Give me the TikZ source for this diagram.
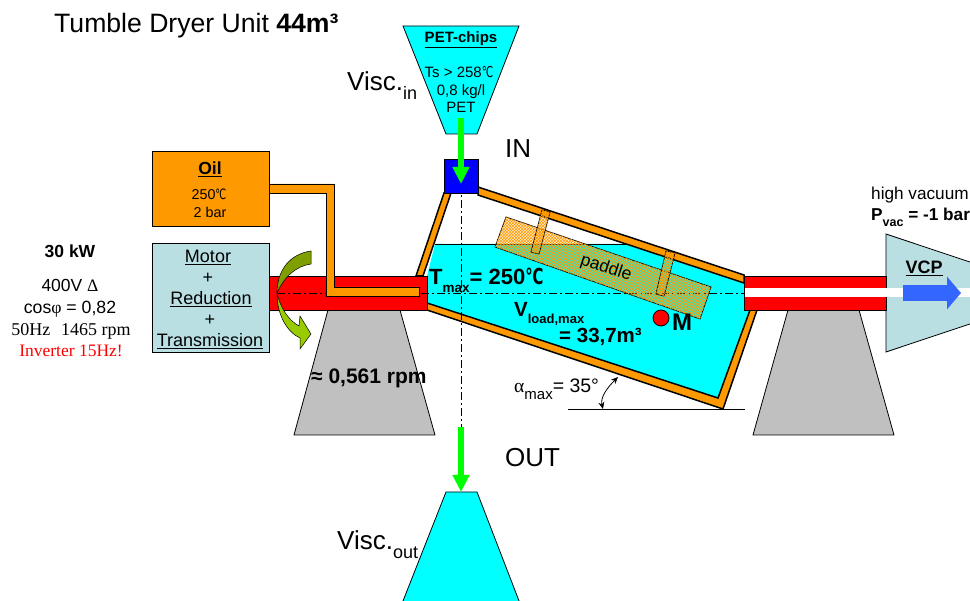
\documentclass[tikz,border=0pt]{standalone}
\usepackage{fontspec}
\setmainfont{Liberation Sans}
\newfontfamily\serifface{Liberation Serif}
\newfontfamily\symbface{DejaVu Sans}
\usetikzlibrary{arrows.meta,patterns}
\definecolor{oilorange}{HTML}{FF9900}
\definecolor{motorblue}{HTML}{B9DFE3}
\definecolor{supportgrey}{HTML}{C0C0C0}
\definecolor{arrowblue}{HTML}{3366FF}
\definecolor{darkolive}{HTML}{7F9F00}
\definecolor{lightolive}{HTML}{99CC00}
\definecolor{bincyan}{HTML}{00FFFF}
\definecolor{purered}{HTML}{FF0000}
\definecolor{puregreen}{HTML}{00FF00}
\definecolor{pureblue}{HTML}{0000FF}
\newcommand{\fs}[1]{\fontsize{#1}{#1}\selectfont}
\newcommand{\low}[2]{\raisebox{-0.32em}{\fs{#1}#2}}
\newcommand{\degc}{{\symbface\scalebox{0.68}[1]{℃}}}
\tikzset{
  outline/.style={draw=black,line width=0.8pt},
  wall/.style={fill=oilorange,draw=black,line width=1.5pt},
  feedarrow/.style={puregreen,line width=6pt,-{Triangle[length=17pt,width=16pt]}},
  centerline/.style={black,line width=0.6pt,dash pattern=on 8pt off 3pt on 2pt off 3pt},
  meshed/.style={outline,fill=oilorange,fill opacity=0.2},
  mesh/.style={pattern=crosshatch,pattern color=oilorange,fill opacity=0.55},
  lbl/.style={inner sep=0pt,align=center}
}
\begin{document}
\begin{tikzpicture}[x=1pt,y=-1pt]
   \useasboundingbox (0,0) rectangle (970,601);
   \filldraw[outline,fill=motorblue] (886,234) -- (975,263.7) -- (975,322.3) -- (886,352) -- cycle;
   \filldraw[outline,fill=supportgrey] (328,310) -- (400,310) -- (435,435) -- (294,435) -- cycle;
   \filldraw[outline,fill=supportgrey] (788,310) -- (859,310) -- (894,435) -- (753,435) -- cycle;
   \filldraw[outline,fill=bincyan] (403,26) -- (519,26) -- (477,134) -- (446,134) -- cycle;
   \filldraw[outline,fill=bincyan] (446,492) -- (477,492) -- (521,606) -- (401,606) -- cycle;
   \fill[bincyan] (435,244) -- (627,244) -- (745,283) -- (750,310) -- (718,398) -- (427,303) -- (427,276) -- cycle;
   \draw[black,line width=0.8pt] (435,244) -- (627,244);
   \filldraw[wall] (444,193) -- (416,276) -- (423,276) -- (451,193) -- cycle;
   \filldraw[wall] (427,303) -- (718,398) -- (750,310) -- (757,310) -- (723,409) -- (427,310) -- cycle;
   \filldraw[wall] (478,187) -- (744,275) -- (744,283) -- (478,195) -- cycle;
   \filldraw[outline,fill=purered] (269,276) rectangle (427,310);
   \filldraw[outline,fill=purered] (744,276) rectangle (886,310);
   \fill[white] (745,288) rectangle (975,297);
   \draw[centerline] (277,293) -- (745,293);
   \draw[centerline] (461,184) -- (461,427);
   \filldraw[outline,fill=pureblue] (444,159) rectangle (478,193);
   \filldraw[outline,fill=oilorange] (152,151) rectangle (269,226);
   \filldraw[outline,fill=motorblue] (152,243) rectangle (269,352);
   \filldraw[outline,fill=oilorange] (269,184) -- (334,184) -- (334,287) -- (419,287) -- (419,296) -- (326,296) -- (326,193) -- (269,193) -- cycle;
   \filldraw[meshed] (506,217) -- (711,287) -- (700,319) -- (495,247) -- cycle;
   \fill[mesh] (506,217) -- (711,287) -- (700,319) -- (495,247) -- cycle;
   \filldraw[meshed] (542,210) -- (550,212) -- (539,254) -- (531,252) -- cycle;
   \fill[mesh] (542,210) -- (550,212) -- (539,254) -- (531,252) -- cycle;
   \filldraw[meshed] (666,251) -- (675,253) -- (664,296) -- (656,294) -- cycle;
   \fill[mesh] (666,251) -- (675,253) -- (664,296) -- (656,294) -- cycle;
   \filldraw[outline,fill=purered] (661,318) circle(8);
   \filldraw[draw=black,line width=0.5pt,fill=darkolive] (311,251) -- (311,264) .. controls (296,266) and (284,277) .. (277,293) .. controls (277,270) and (290,254) .. (311,251) -- cycle;
   \filldraw[draw=black,line width=0.5pt,fill=lightolive] (277,293) .. controls (280,307) and (288,320) .. (299,326) -- (300,316) -- (311,334) -- (300,349) -- (300,338) .. controls (287,332) and (277,315) .. (277,293) -- cycle;
   \coordinate (chipsout) at (461,118);
   \coordinate (feedin) at (461,184);
   \coordinate (feedout) at (461,427);
   \coordinate (outtop) at (461,492);
   \coordinate (vacstart) at (903,293);
   \coordinate (vacend) at (961,293);
   \draw[feedarrow] (chipsout) -- (feedin);
   \draw[feedarrow] (feedout) -- (outtop);
   \draw[arrowblue,line width=16pt,-{Triangle[length=14pt,width=32pt]}] (vacstart) -- (vacend);
   \draw[black,line width=0.8pt] (568,409) -- (745,409);
   \draw[black,line width=0.8pt,{Stealth[length=7pt,width=6pt]}-{Stealth[length=7pt,width=6pt]}] (603,409) .. controls (600,397) and (608,387) .. (618,377);
   \node[lbl,anchor=base west] (title) at (54,33) {\fs{26.6}Tumble Dryer Unit \textbf{44m³}};
   \node[lbl,anchor=base] (chips) at (461,43) {\fs{15}\textbf{\underline{PET-chips}}};
   \node[lbl,anchor=base] (ts) at (459,78) {\fs{15}Ts > 258\degc};
   \node[lbl,anchor=base] (density) at (461,96) {\fs{15}0,8 kg/l};
   \node[lbl,anchor=base] (pet) at (461,113) {\fs{15}PET};
   \node[lbl,anchor=base west] (viscin) at (347,91) {\fs{26}Visc.\low{18}{in}};
   \node[lbl,anchor=base west] (in) at (505,158) {\fs{26}IN};
   \node[lbl,anchor=base west] (out) at (505,467) {\fs{26}OUT};
   \node[lbl,anchor=base west] (viscout) at (337,550) {\fs{26}Visc.\low{18}{out}};
   \node[lbl,anchor=base] (oil) at (210,175) {\fs{17.5}\textbf{\underline{Oil}}};
   \node[lbl,anchor=base] (oiltemp) at (209,200) {\fs{14.3}250\degc};
   \node[lbl,anchor=base] (oilbar) at (210,218) {\fs{14.3}2 bar};
   \node[lbl,anchor=base] (motor) at (208,263) {\fs{18}\underline{Motor}};
   \node[lbl,anchor=base] (plusa) at (208,284) {\fs{18}+};
   \node[lbl,anchor=base] (reduction) at (211,305) {\fs{18}\underline{Reduction}};
   \node[lbl,anchor=base] (plusb) at (210,326) {\fs{18}+};
   \node[lbl,anchor=base] (transmission) at (210,347) {\fs{18}\underline{Transmission}};
   \node[lbl,anchor=base] (power) at (70,258) {\fs{17.5}\textbf{30 kW}};
   \node[lbl,anchor=base] (volt) at (70,292) {\fs{17.5}400V {\serifface Δ}};
   \node[lbl,anchor=base] (cos) at (70,314) {\fs{17.7}cos{\serifface φ} = 0,82};
   \node[lbl,anchor=base] (freq) at (71,336) {\fs{18}\serifface 50Hz\hspace{11pt}1465 rpm};
   \node[lbl,anchor=base,purered] (inverter) at (71,357) {\fs{17.5}\serifface Inverter 15Hz!};
   \node[lbl,anchor=base west] (tmax) at (429,285) {\fs{22}\textbf{T\low{13.5}{max}= 250\degc}};
   \node[lbl,anchor=base west] (vload) at (514,317) {\fs{20.5}\textbf{V\low{13}{load,max}}};
   \node[lbl,anchor=base west] (vol) at (559,343) {\fs{20.5}\textbf{= 33,7m³}};
   \node[lbl,anchor=base west] (mass) at (672,331) {\fs{24}\textbf{M}};
   \node[lbl,anchor=base west] (rpm) at (311,384) {\fs{21}\textbf{≈ 0,561 rpm}};
   \node[lbl,rotate=-18] (paddle) at (606,268) {\fs{17.5}paddle};
   \node[lbl,anchor=base west] (alpha) at (514,393) {\fs{19.5}{\serifface α}\low{15}{max}= 35°};
   \node[lbl,anchor=base west] (vacuum) at (871,200) {\fs{17.2}high vacuum};
   \node[lbl,anchor=base west] (pvac) at (871,221) {\fs{17.2}\textbf{P\low{12.5}{vac} = -1 bar}};
   \node[lbl,anchor=base] (vcp) at (924,274) {\fs{18}\textbf{\underline{VCP}}};
\end{tikzpicture}
\end{document}
